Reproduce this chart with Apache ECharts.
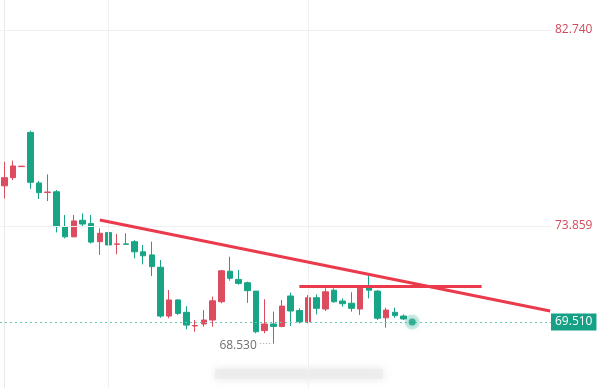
<!DOCTYPE html>
<html>
<head>
<meta charset="utf-8">
<script src="https://cdn.jsdelivr.net/npm/echarts@6/dist/echarts.min.js"></script>
<style>
  html, body { margin: 0; padding: 0; background: #fff; }
  #chart { width: 601px; height: 388px; }
</style>
</head>
<body>
<div id="chart"></div>
<script>
// candle values, one entry per bar (index = x position)
var opens  = [75.68,76.05,76.55,78.10,75.81,75.38,75.41,73.81,73.37,74.12,73.97,73.15,73.56,73.03,73.05,73.15,72.69,72.55,71.99,69.78,70.51,69.95,69.33,69.42,69.60,70.43,71.81,71.44,71.29,70.91,69.12,69.42,69.31,70.69,70.03,69.52,70.61,70.10,70.95,70.46,70.36,70.10,71.06,70.91,69.70,69.95,69.78];
var closes = [76.05,76.58,76.57,75.84,75.37,75.40,73.83,73.37,74.09,73.95,73.13,73.53,73.00,73.05,73.03,72.69,72.51,72.02,69.78,70.51,69.90,69.37,69.35,69.60,70.47,71.83,71.49,71.26,70.93,69.07,69.42,69.31,70.23,70.01,69.52,70.61,70.13,70.88,70.43,70.34,70.13,71.04,70.95,69.68,70.05,69.80,69.65];
var lows   = [75.11,75.94,76.54,75.54,75.08,74.99,73.57,73.30,73.35,73.83,73.07,72.55,72.92,72.58,73.00,72.40,72.12,71.59,69.70,69.68,69.83,69.18,69.07,69.30,69.30,70.36,71.38,71.20,70.38,69.00,69.00,68.53,69.27,69.33,69.45,69.45,69.86,70.01,70.38,70.20,69.98,69.83,70.58,69.60,69.25,69.70,69.60];
var highs  = [76.77,76.82,76.58,78.18,75.90,76.20,75.49,74.36,74.36,74.43,74.36,73.75,74.05,73.50,73.53,73.22,73.00,73.15,72.32,70.96,70.54,70.23,69.60,70.05,70.66,71.87,72.47,71.87,71.34,70.91,70.54,69.98,70.51,70.84,70.13,70.73,70.76,71.04,71.04,70.58,70.86,71.11,71.61,70.96,70.16,70.16,69.86];

var lastPoint = [47, 69.51];          // live price dot
var priceTicks = [82.740, 73.859];    // right axis labels
var timeLines = [12, 35];             // vertical grid lines (bar index)
var lowMark = [31, 68.53];            // lowest price marker
var trendLine = [[11.0, 74.13], [62.9, 70.01]];
var levelLine = [[34.0, 71.15], [55.0, 71.15]];

var UP = '#dd4b5e', DOWN = '#17a586';

var candleData = opens.map(function (o, i) {
    return [i, o, closes[i], lows[i], highs[i]];
});

var gridLines = timeLines.map(function (x) {
    return { xAxis: x, lineStyle: { color: '#f0f0f0', width: 1, type: 'solid' }, label: { show: false } };
}).concat(priceTicks.map(function (v) {
    return {
        yAxis: v,
        lineStyle: { color: '#f0f0f0', width: 1, type: 'solid' },
        label: {
            show: true, position: 'end', distance: 4,
            formatter: v.toFixed(3), color: '#d04a5c', fontSize: 12,
            fontFamily: 'Open Sans'
        }
    };
}));

var chartOne = echarts.init(document.getElementById('chart'));
var option = {
    animation: false,
    backgroundColor: '#ffffff',
    grid: { left: 0, right: 50, top: 0, bottom: 0 },
    xAxis: {
        type: 'value', min: -0.5, max: 63,
        show: false, splitLine: { show: false }
    },
    yAxis: {
        type: 'value', position: 'right',
        min: 66.52, max: 84.10,
        axisLine: { show: true, lineStyle: { color: '#e8e8e8' } },
        axisTick: { show: false },
        axisLabel: { show: false },
        splitLine: { show: false }
    },
    graphic: [{
        type: 'rect', left: 215, top: 369,
        shape: { width: 168, height: 10 },
        style: { fill: '#ececec', shadowBlur: 8, shadowColor: '#e0e0e0', opacity: 0.8 },
        silent: true
    }],
    series: [
        {
            type: 'line', data: [], z: 1, silent: true,
            markLine: { symbol: 'none', silent: true, data: gridLines }
        },
        {
            type: 'candlestick',
            z: 3,
            barWidth: 6,
            encode: { x: 0, y: [1, 2, 3, 4] },
            data: candleData,
            itemStyle: {
                color: UP, color0: DOWN,
                borderColor: UP, borderColor0: DOWN, borderWidth: 1
            },
            markPoint: {
                symbol: 'circle', symbolSize: 0,
                data: [{
                    coord: lowMark,
                    label: {
                        show: true, position: 'left', distance: 2,
                        formatter: '{v|' + lowMark[1].toFixed(3) + '}{d| ····}',
                        rich: {
                            v: { color: '#707070', fontSize: 12, fontFamily: 'Open Sans', padding: [4, 0, 0, 0] },
                            d: { color: '#9a9a9a', fontSize: 9 }
                        }
                    }
                }]
            },
            markLine: {
                symbol: 'none', silent: true,
                data: [
                    {
                        yAxis: lastPoint[1],
                        lineStyle: { color: '#6cc6b3', width: 1, type: [2, 3] },
                        label: {
                            show: true, position: 'end', distance: 0,
                            formatter: lastPoint[1].toFixed(3),
                            color: '#ffffff', backgroundColor: '#16a085',
                            padding: [3, 4, 2, 4], fontSize: 12, fontFamily: 'Open Sans'
                        }
                    },
                    [
                        { coord: trendLine[0], lineStyle: { color: '#ea3a4c', width: 3, type: 'solid' }, label: { show: false } },
                        { coord: trendLine[1] }
                    ],
                    [
                        { coord: levelLine[0], lineStyle: { color: '#ea3a4c', width: 3, type: 'solid' }, label: { show: false } },
                        { coord: levelLine[1] }
                    ]
                ]
            }
        },
        {
            type: 'scatter', z: 4, silent: true,
            data: [lastPoint],
            symbolSize: 15,
            itemStyle: { color: 'rgba(23,165,134,0.22)' }
        },
        {
            type: 'scatter', z: 5, silent: true,
            data: [lastPoint],
            symbolSize: 7,
            itemStyle: { color: DOWN, shadowBlur: 6, shadowColor: 'rgba(23,165,134,0.8)' }
        }
    ]
};
chartOne.setOption(option, true);
</script>
</body>
</html>
